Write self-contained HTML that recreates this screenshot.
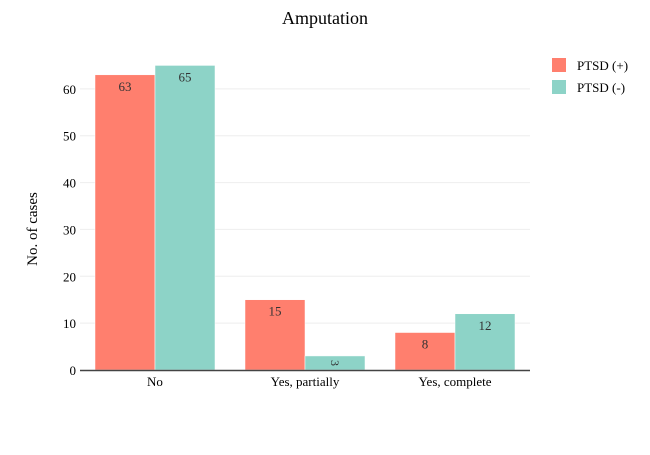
<!DOCTYPE html>
<html><head><meta charset="utf-8"><style>
body{margin:0;background:#fff}
svg text{font-family:"Liberation Serif",serif;}
</style></head><body>
<svg width="650" height="450" xmlns="http://www.w3.org/2000/svg">
<text x="325" y="24" text-anchor="middle" font-size="18" fill="#000">Amputation</text>
<g id="grid"></g>
<g id="bars"></g>
<g id="axes"></g>
<text transform="translate(37,229) rotate(-90)" text-anchor="middle" font-size="15">No. of cases</text>
<g>
<g><rect x="552" y="58" width="14" height="14" fill="#ff7f6e"/><text x="577" y="70" font-size="13">PTSD (+)</text></g>
<g><rect x="552" y="80" width="14" height="14" fill="#8dd3c7"/><text x="577" y="92" font-size="13">PTSD (-)</text></g>
</g>
</svg>
<script>
const categories=["No","Yes, partially","Yes, complete"];
const ptsdPos=[63,15,8];
const ptsdNeg=[65,3,12];
const yTicks=[0,10,20,30,40,50,60];
const NS="http://www.w3.org/2000/svg";
const x0=80,x1=530,y0=370,yTop=42,yMax=70;
const y=v=>y0-(v/yMax)*(y0-yTop);
const band=(x1-x0)/categories.length;
const xc=i=>x0+band*(i+0.5);
function mk(t,a,p){const e=document.createElementNS(NS,t);for(const k in a)e.setAttribute(k,a[k]);p.appendChild(e);return e;}
const grid=document.getElementById('grid'),bars=document.getElementById('bars'),axes=document.getElementById('axes');
yTicks.forEach(t=>{
 if(t>0){const l=mk('line',{x1:x0,x2:x1,y1:y(t),y2:y(t),stroke:'#eee','stroke-width':1},grid);
 
 }
 const tx=mk('text',{x:x0-4,y:y(t)+5,'text-anchor':'end','font-size':13},axes);tx.textContent=t;
 
 
});
const ax=mk('line',{x1:x0,x2:x1,y1:y0+0.5,y2:y0+0.5,stroke:'#444','stroke-width':1.5},axes);


const bw=60;
categories.forEach((c,i)=>{
 const tx=mk('text',{x:xc(i),y:y0+16,'text-anchor':'middle','font-size':13},axes);tx.textContent=c;
 
 
 [[ptsdPos,'#ff7f6e',-bw],[ptsdNeg,'#8dd3c7',0]].forEach(([arr,col,off],s)=>{
  const v=arr[i],bx=xc(i)+off,by=y(v),h=y0-by;
  const r=mk('rect',{x:bx,y:by,width:bw,height:h,fill:col,stroke:'#fff','stroke-width':0.5},bars);
  
  
  let lab;
  if(h>=18){lab=mk('text',{x:bx+bw/2,y:by+16,'text-anchor':'middle','font-size':13,fill:'#333'},bars);}
  else{lab=mk('text',{x:bx+bw/2,y:by+h/2,'text-anchor':'middle','dominant-baseline':'central','font-size':Math.max(8,h-2),fill:'#333',transform:`rotate(90 ${bx+bw/2} ${by+h/2})`},bars);}
  lab.textContent=v;
  
  
 });
});
</script>
</body></html>
